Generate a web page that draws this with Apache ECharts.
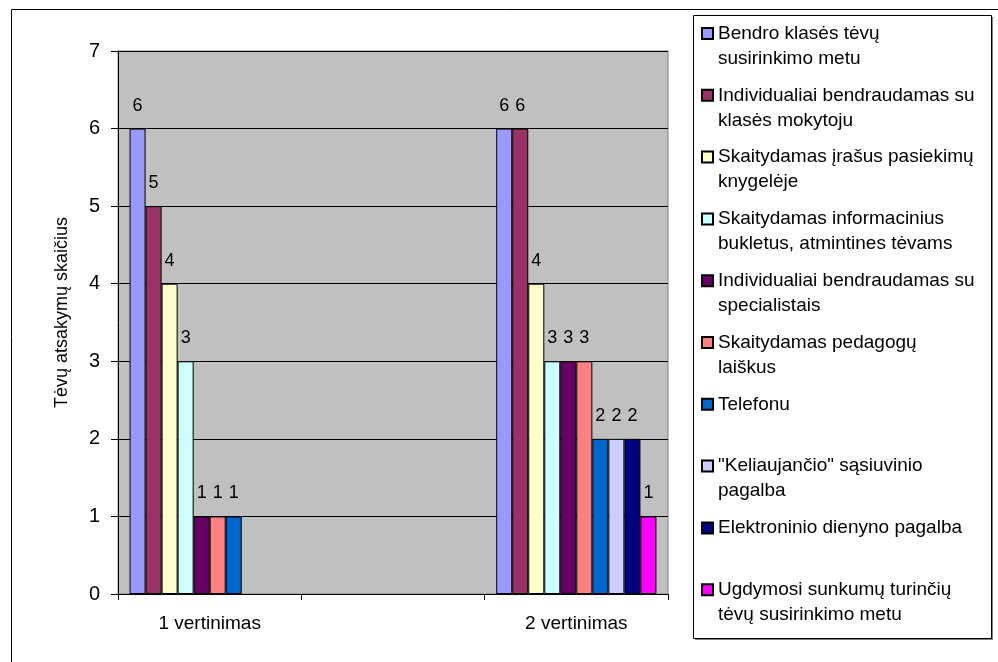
<!DOCTYPE html>
<html>
<head>
<meta charset="utf-8">
<script src="https://cdn.jsdelivr.net/npm/echarts@6/dist/echarts.min.js"></script>
<style>
  html, body { margin: 0; padding: 0; background: #fff; }
  #chart { width: 998px; height: 662px; }
</style>
</head>
<body>
<div id="chart"></div>
<script>
// Assessment rounds (the middle slot is an empty spacer column)
const categories = ['1 vertinimas', '', '2 vertinimas'];

// Answer options, in legend order
const seriesNames = [
  'Bendro klasės tėvų\nsusirinkimo metu',
  'Individualiai bendraudamas su\nklasės mokytoju',
  'Skaitydamas įrašus pasiekimų\nknygelėje',
  'Skaitydamas informacinius\nbukletus, atmintines tėvams',
  'Individualiai bendraudamas su\nspecialistais',
  'Skaitydamas pedagogų\nlaiškus',
  'Telefonu',
  '"Keliaujančio" sąsiuvinio\npagalba',
  'Elektroninio dienyno pagalba',
  'Ugdymosi sunkumų turinčių\ntėvų susirinkimo metu'
];

// Number of parents' answers per option
const round1 = [6, 5, 4, 3, 1, 1, 1, null, null, null];
const round2 = [6, 6, 4, 3, 3, 3, 2, 2, 2, 1];

const colors = ['#9999FF', '#993366', '#FFFFCC', '#CCFFFF', '#660066',
                '#FF8080', '#0066CC', '#CCCCFF', '#000080', '#FF00FF'];

const yTicks = { min: 0, max: 7, interval: 1 };

const FONT = '"Liberation Sans", Arial, sans-serif';
const LINE = 25;

const series = seriesNames.map((name, i) => ({
  name: name,
  type: 'bar',
  data: [round1[i], null, round2[i]],
  barGap: '0%',
  barCategoryGap: '12.6%',
  itemStyle: { color: colors[i], borderColor: '#000', borderWidth: 1 },
  label: {
    show: true,
    position: 'top',
    distance: 14,
    color: '#000',
    fontFamily: FONT,
    fontSize: 18
  }
}));

// Every legend entry is laid out as three text rows so that the
// first visible row sits level with the swatch
function legendText(name) {
  return name.indexOf('\n') >= 0 ? ' \n' + name : ' \n' + name + '\n ';
}

const chart = echarts.init(document.getElementById('chart'), null, { renderer: 'canvas' });
chart.setOption({
  animation: false,
  backgroundColor: '#fff',
  textStyle: { fontFamily: FONT },
  graphic: [
    {
      type: 'rect', z: -10, silent: true,
      shape: { x: 11.5, y: 9.5, width: 1100, height: 800 },
      style: { fill: '#fff', stroke: '#000', lineWidth: 1 }
    },
    {
      type: 'rect', z: -9, silent: true,
      shape: { x: 695, y: 17, width: 298, height: 623 },
      style: { fill: '#808080' }
    },
    {
      type: 'rect', z: -8, silent: true,
      shape: { x: 693.5, y: 15.5, width: 298, height: 623 },
      style: { fill: '#fff', stroke: '#000', lineWidth: 1 }
    }
  ],
  grid: {
    left: 118, top: 51, right: 330, bottom: 68,
    show: true, backgroundColor: '#C0C0C0', borderColor: '#808080', borderWidth: 1
  },
  legend: {
    orient: 'vertical',
    left: 701,
    top: -4,
    padding: 0,
    itemGap: -13.2,
    itemWidth: 11,
    itemHeight: 11,
    icon: 'rect',
    formatter: legendText,
    textStyle: { fontFamily: FONT, fontSize: 19, color: '#000', lineHeight: LINE },
    data: seriesNames,
    selectedMode: false
  },
  xAxis: {
    type: 'category',
    data: categories,
    axisLine: { show: true, lineStyle: { color: '#000', width: 1 } },
    axisTick: { show: true, interval: 0, length: 6, alignWithLabel: false, lineStyle: { color: '#000' } },
    axisLabel: { interval: 0, color: '#000', fontFamily: FONT, fontSize: 19, margin: 20 },
    splitLine: { show: false }
  },
  yAxis: {
    type: 'value',
    min: yTicks.min, max: yTicks.max, interval: yTicks.interval,
    name: 'Tėvų atsakymų skaičius',
    nameLocation: 'middle',
    nameGap: 47,
    nameMoveOverlap: false,
    nameTextStyle: { color: '#000', fontFamily: FONT, fontSize: 18, padding: [0, 0, 0, 20] },
    axisLine: { show: true, lineStyle: { color: '#000', width: 1 } },
    axisTick: { show: true, length: 7, lineStyle: { color: '#000' } },
    axisLabel: { color: '#000', fontFamily: FONT, fontSize: 20, margin: 18 },
    splitLine: { show: true, lineStyle: { color: '#000', width: 1 } }
  },
  series: series
});
</script>
</body>
</html>
